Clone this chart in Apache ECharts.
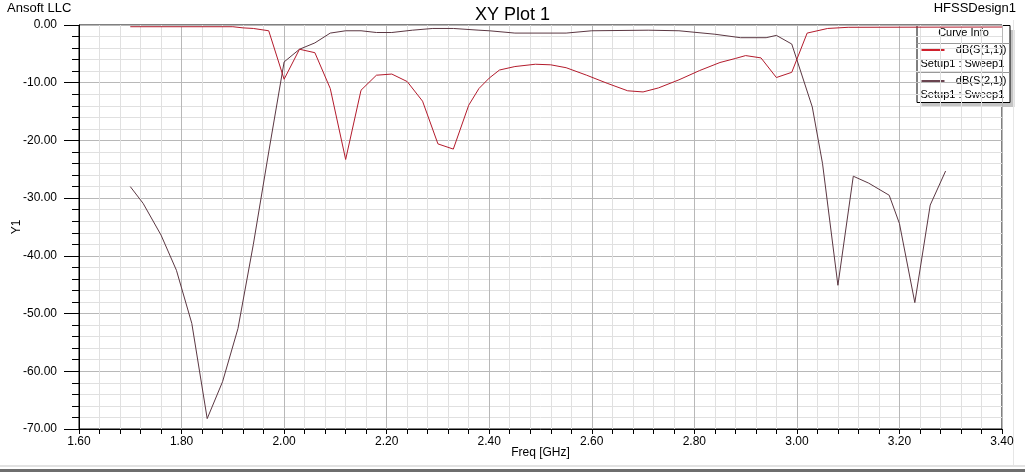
<!DOCTYPE html>
<html>
<head>
<meta charset="utf-8">
<title>XY Plot 1</title>
<script src="https://cdn.jsdelivr.net/npm/echarts@6/dist/echarts.min.js"></script>
<style>
  html, body { margin: 0; padding: 0; background: #fff; }
  #chart { width: 1025px; height: 472px; }
</style>
</head>
<body>
<div id="chart"></div>
<script>
// dB(S(1,1))
const freqS11 = [1.70, 1.80, 1.90, 1.92, 1.94, 1.97, 2.00, 2.03, 2.06, 2.09, 2.12, 2.15, 2.18, 2.21, 2.24, 2.27,
  2.30, 2.33, 2.36, 2.38, 2.40, 2.42, 2.45, 2.49, 2.52, 2.55, 2.59, 2.63, 2.67, 2.70, 2.73, 2.77, 2.81,
  2.85, 2.88, 2.90, 2.93, 2.96, 2.99, 3.02, 3.06, 3.10, 3.40]
const valS11 = [-0.3, -0.3, -0.3, -0.5, -0.6, -1.0, -9.4, -4.2, -4.8, -11.0, -23.3, -11.3, -8.7, -8.5, -9.8, -13.2,
  -20.6, -21.5, -13.9, -11.0, -9.2, -7.8, -7.2, -6.8, -6.9, -7.4, -8.7, -10.1, -11.4, -11.6, -10.9, -9.5, -7.9,
  -6.5, -5.8, -5.3, -5.7, -9.1, -8.2, -1.4, -0.6, -0.4, -0.35]

// dB(S(2,1))
const freqS21 = [1.70, 1.725, 1.76, 1.79, 1.82, 1.85, 1.88, 1.91, 1.94, 1.97, 2.00, 2.03, 2.06, 2.09, 2.12, 2.15,
  2.18, 2.21, 2.25, 2.29, 2.33, 2.38, 2.40, 2.45, 2.55, 2.60, 2.71, 2.77, 2.84, 2.89, 2.94, 2.96, 2.99,
  3.03, 3.05, 3.08, 3.11, 3.14, 3.18, 3.20, 3.23, 3.26, 3.29]
const valS21 = [-28.0, -30.9, -36.4, -42.5, -51.7, -68.2, -61.8, -52.6, -38.0, -22.0, -6.4, -4.2, -3.1, -1.4, -1.0, -1.0,
  -1.3, -1.3, -0.9, -0.6, -0.6, -0.9, -1.0, -1.4, -1.4, -1.0, -0.9, -1.0, -1.6, -2.2, -2.2, -1.8, -3.3,
  -14.2, -24.0, -45.1, -26.2, -27.4, -29.5, -34.4, -48.1, -31.2, -25.3]

const seriesNames = ['dB(S(1,1))', 'dB(S(2,1))']
const setupName = 'Setup1 : Sweep1'
const colorS11 = '#b31b2c'
const colorS21 = '#5b3742'

const font = '"Liberation Sans", Arial, sans-serif'

const pairs = (xs, ys) => xs.map((x, i) => [x, ys[i]])

const chart = echarts.init(document.getElementById('chart'))

const option = {
  animation: false,
  backgroundColor: '#fff',
  textStyle: { fontFamily: font },
  title: {
    text: 'XY Plot 1',
    left: 'center',
    top: 1,
    textStyle: { fontFamily: font, fontSize: 18, fontWeight: 'normal', color: '#000' }
  },
  grid: {
    left: 79,
    top: 25,
    right: 23,
    bottom: 43,
    containLabel: false,
    outerBoundsMode: 'none',
    show: true,
    borderColor: '#000',
    borderWidth: 1,
    backgroundColor: 'transparent'
  },
  xAxis: {
    type: 'value',
    min: 1.6,
    max: 3.4,
    interval: 0.2,
    name: 'Freq [GHz]',
    nameLocation: 'middle',
    nameGap: 18,
    nameMoveOverlap: false,
    nameTextStyle: { fontFamily: font, fontSize: 12, color: '#000', verticalAlign: 'top' },
    axisLine: { show: true, onZero: false, lineStyle: { color: '#000', width: 1 } },
    axisTick: { show: true, length: 5, lineStyle: { color: '#000' } },
    minorTick: { show: true, splitNumber: 5, length: 5, lineStyle: { color: '#000' } },
    axisLabel: {
      margin: 7,
      fontFamily: font,
      fontSize: 12,
      color: '#000',
      showMaxLabel: true,
      formatter: v => v.toFixed(2)
    },
    splitLine: { show: true, lineStyle: { color: '#b8b8b8', width: 1 } },
    minorSplitLine: { show: true, lineStyle: { color: '#e0e0e0', width: 1 } }
  },
  yAxis: {
    type: 'value',
    min: -70,
    max: 0,
    interval: 10,
    name: 'Y1',
    nameLocation: 'middle',
    nameGap: 56,
    nameRotate: 90,
    nameMoveOverlap: false,
    nameTextStyle: { fontFamily: font, fontSize: 12, color: '#000' },
    axisLine: { show: true, onZero: false, lineStyle: { color: '#000', width: 1 } },
    axisTick: { show: true, inside: false, length: 15, lineStyle: { color: '#000' } },
    minorTick: { show: true, splitNumber: 5, length: 7, lineStyle: { color: '#000' } },
    axisLabel: {
      margin: 22,
      fontFamily: font,
      fontSize: 12,
      color: '#000',
      formatter: v => v.toFixed(2)
    },
    splitLine: { show: true, lineStyle: { color: '#b8b8b8', width: 1 } },
    minorSplitLine: { show: true, lineStyle: { color: '#e0e0e0', width: 1 } }
  },
  series: [
    {
      name: seriesNames[0],
      type: 'line',
      data: pairs(freqS11, valS11),
      showSymbol: false,
      smooth: false,
      lineStyle: { color: colorS11, width: 1 },
      itemStyle: { color: colorS11 },
      z: 3
    },
    {
      name: seriesNames[1],
      type: 'line',
      data: pairs(freqS21, valS21),
      showSymbol: false,
      smooth: false,
      lineStyle: { color: colorS21, width: 1 },
      itemStyle: { color: colorS21 },
      z: 2
    }
  ],
  graphic: [
    // corner captions
    { type: 'text', left: 7, top: 2, style: { text: 'Ansoft LLC', font: '13px ' + font, fill: '#000' } },
    { type: 'text', right: 9, top: 2, style: { text: 'HFSSDesign1', font: '13px ' + font, fill: '#000' } },
    // legend box "Curve Info"
    {
      type: 'group',
      left: 914,
      top: 25,
      z: 100,
      children: [
        { type: 'rect', shape: { x: 5, y: 5, width: 93, height: 77 }, style: { fill: '#c4c4c4' } },
        { type: 'rect', shape: { x: 0.5, y: 0.5, width: 93, height: 77 }, style: { fill: '#fff', stroke: '#000', lineWidth: 1 } },
        { type: 'text', x: 47, y: 8, style: { text: 'Curve Info', font: '11px ' + font, fill: '#000', align: 'center', verticalAlign: 'middle' } },
        { type: 'line', shape: { x1: 0, y1: 18.5, x2: 93, y2: 18.5 }, style: { stroke: '#999', lineWidth: 1 } },
        { type: 'line', shape: { x1: 5, y1: 25, x2: 28, y2: 25 }, style: { stroke: '#d0202c', lineWidth: 2 } },
        { type: 'text', x: 90, y: 25, style: { text: seriesNames[0], font: '11px ' + font, fill: '#000', align: 'right', verticalAlign: 'middle' } },
        { type: 'text', x: 4, y: 39, style: { text: setupName, font: '11px ' + font, fill: '#000', verticalAlign: 'middle' } },
        { type: 'line', shape: { x1: 0, y1: 47.5, x2: 93, y2: 47.5 }, style: { stroke: '#999', lineWidth: 1 } },
        { type: 'line', shape: { x1: 5, y1: 56, x2: 28, y2: 56 }, style: { stroke: '#6a4450', lineWidth: 2 } },
        { type: 'text', x: 90, y: 56, style: { text: seriesNames[1], font: '11px ' + font, fill: '#000', align: 'right', verticalAlign: 'middle' } },
        { type: 'text', x: 4, y: 70, style: { text: setupName, font: '11px ' + font, fill: '#000', verticalAlign: 'middle' } }
      ]
    },
    // window frame at the bottom / right
    { type: 'line', shape: { x1: 0, y1: 466, x2: 1025, y2: 466 }, style: { stroke: '#e2e2e2', lineWidth: 2 } },
    { type: 'line', shape: { x1: 0, y1: 470.5, x2: 1025, y2: 470.5 }, style: { stroke: '#6e6e6e', lineWidth: 3 } },
    { type: 'line', shape: { x1: 1013.5, y1: 20, x2: 1013.5, y2: 465 }, style: { stroke: '#e6e6e6', lineWidth: 1 } }
  ]
}

chart.setOption(option)
window.addEventListener('resize', () => chart.resize())
</script>
</body>
</html>
